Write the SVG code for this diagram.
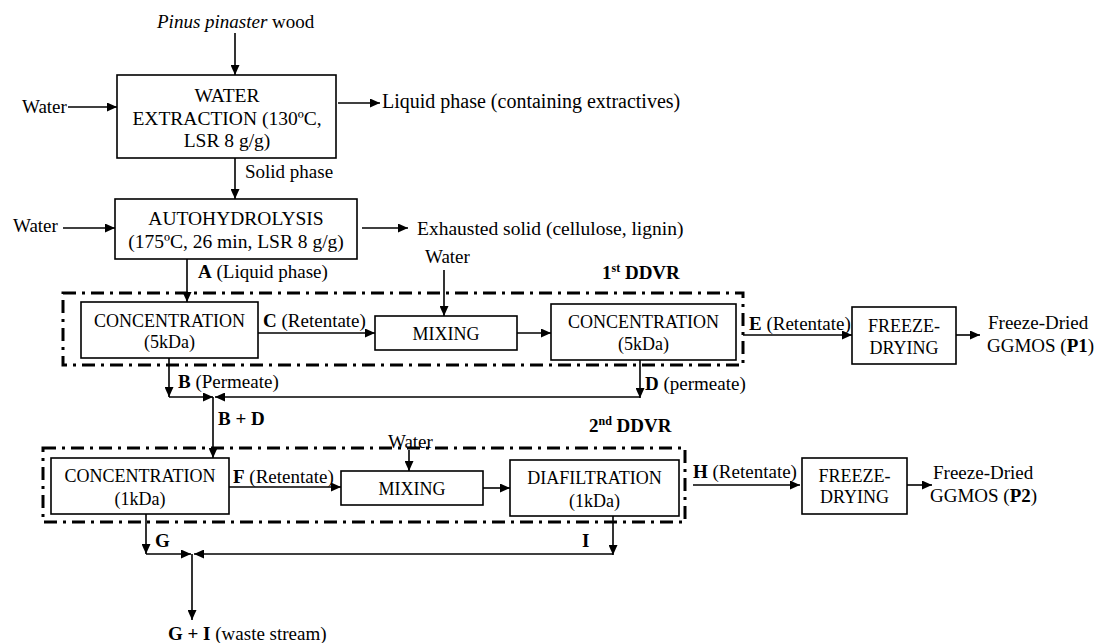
<svg xmlns="http://www.w3.org/2000/svg" width="1097" height="643" viewBox="0 0 1097 643">
<style>
text{font-family:"Liberation Serif","Times New Roman",serif;fill:#000}
.lbl{font-size:19px}
.bx{font-size:18px;text-anchor:middle}
.big{font-size:19.5px}
.b{font-weight:bold}
.box{fill:#fff;stroke:#000;stroke-width:1.6}
.ddvr{fill:none;stroke:#000;stroke-width:3;stroke-dasharray:13 6 3 6}
.c{fill:none;stroke:#000;stroke-width:1.6}
.a{marker-end:url(#ah)}
</style>
<defs>
<marker id="ah" markerUnits="userSpaceOnUse" markerWidth="11" markerHeight="9" refX="10" refY="4.5" orient="auto">
<path d="M0,0 L10,4.5 L0,9 z" fill="#000"/>
</marker>
</defs>
<rect id="ddvr1" class="ddvr" x="63" y="293" width="680" height="72"/>
<rect id="ddvr2" class="ddvr" x="43" y="448" width="642" height="74"/>
<g id="connectors">
<path class="c a" d="M235,33 V75"/>
<path class="c a" d="M68,107 H117"/>
<path class="c a" d="M338,103 H380"/>
<path class="c a" d="M235,158 V199"/>
<path class="c a" d="M63,228 H115"/>
<path class="c a" d="M362,228 H408"/>
<path class="c a" d="M187,259 V302"/>
<path class="c a" d="M258,333 H375"/>
<path class="c a" d="M444,270 V316"/>
<path class="c a" d="M517,333 H551"/>
<path class="c a" d="M743,335 H852"/>
<path class="c a" d="M956,335 H980"/>
<path class="c a" d="M169,358 V397"/>
<path class="c a" d="M169,397 H213"/>
<path class="c a" d="M640,360 V398"/>
<path class="c a" d="M640,397 H215"/>
<path class="c a" d="M213,397 V458"/>
<path class="c a" d="M229,487 H341"/>
<path class="c a" d="M409,450 V471"/>
<path class="c a" d="M483,488 H510"/>
<path class="c a" d="M693,485 H800"/>
<path class="c a" d="M907,485 H932"/>
<path class="c a" d="M146,514 V554"/>
<path class="c a" d="M146,554 H191"/>
<path class="c a" d="M613,516 V555"/>
<path class="c a" d="M613,554 H194"/>
<path class="c a" d="M192,554 V620"/>
</g>
<g id="water-extraction">
<rect class="box" x="117" y="75" width="219" height="83"/>
<text class="bx big" x="227" y="102">WATER</text>
<text class="bx big" x="227" y="125">EXTRACTION (130ºC,</text>
<text class="bx big" x="227" y="147">LSR 8 g/g)</text>
</g>
<g id="autohydrolysis">
<rect class="box" x="115" y="199" width="242" height="60"/>
<text class="bx big" x="236" y="225">AUTOHYDROLYSIS</text>
<text class="bx big" x="236" y="248">(175ºC, 26 min, LSR 8 g/g)</text>
</g>
<g id="conc1">
<rect class="box" x="81" y="302" width="177" height="56"/>
<text class="bx" x="169.5" y="327">CONCENTRATION</text>
<text class="bx" x="169.5" y="348">(5kDa)</text>
</g>
<g id="mixing1">
<rect class="box" x="375" y="316" width="142" height="34"/>
<text class="bx" x="446" y="340">MIXING</text>
</g>
<g id="conc2">
<rect class="box" x="551" y="304" width="185" height="56"/>
<text class="bx" x="643.5" y="328">CONCENTRATION</text>
<text class="bx" x="643.5" y="350">(5kDa)</text>
</g>
<g id="freeze1">
<rect class="box" x="852" y="307" width="104" height="57"/>
<text class="bx" x="904" y="332">FREEZE-</text>
<text class="bx" x="904" y="354">DRYING</text>
</g>
<g id="conc3">
<rect class="box" x="51" y="458" width="178" height="56"/>
<text class="bx" x="140" y="482">CONCENTRATION</text>
<text class="bx" x="140" y="505">(1kDa)</text>
</g>
<g id="mixing2">
<rect class="box" x="341" y="471" width="142" height="34"/>
<text class="bx" x="412" y="495">MIXING</text>
</g>
<g id="diafiltration">
<rect class="box" x="510" y="460" width="169" height="56"/>
<text class="bx" x="594.5" y="484">DIAFILTRATION</text>
<text class="bx" x="594.5" y="507">(1kDa)</text>
</g>
<g id="freeze2">
<rect class="box" x="802" y="458" width="105" height="56"/>
<text class="bx" x="854.5" y="482">FREEZE-</text>
<text class="bx" x="854.5" y="503">DRYING</text>
</g>
<g id="labels">
<text class="lbl" x="157" y="28"><tspan font-style="italic">Pinus pinaster</tspan> wood</text>
<text class="lbl" x="22" y="113">Water</text>
<text class="lbl" x="382" y="108" style="font-size:20px">Liquid phase (containing extractives)</text>
<text class="lbl" x="245" y="178">Solid phase</text>
<text class="lbl" x="13" y="232">Water</text>
<text class="lbl big" x="417" y="235">Exhausted solid (cellulose, lignin)</text>
<text class="lbl" x="198" y="278"><tspan class="b">A</tspan> (Liquid phase)</text>
<text class="lbl" x="263" y="327"><tspan class="b">C</tspan> (Retentate)</text>
<text class="lbl" x="425" y="263">Water</text>
<text class="lbl b" x="602" y="279">1<tspan font-size="12" dy="-7">st</tspan><tspan dy="7"> DDVR</tspan></text>
<text class="lbl" x="749" y="330"><tspan class="b">E</tspan> (Retentate)</text>
<text class="lbl" x="988" y="329">Freeze-Dried</text>
<text class="lbl" x="987" y="352">GGMOS (<tspan class="b">P1</tspan>)</text>
<text class="lbl" x="178" y="388"><tspan class="b">B</tspan> (Permeate)</text>
<text class="lbl" x="645" y="390"><tspan class="b">D</tspan> (permeate)</text>
<text class="lbl b" x="218" y="425">B + D</text>
<text class="lbl b" x="589" y="432">2<tspan font-size="12" dy="-7">nd</tspan><tspan dy="7"> DDVR</tspan></text>
<text class="lbl" x="388" y="448">Water</text>
<text class="lbl" x="233" y="483"><tspan class="b">F</tspan> (Retentate)</text>
<text class="lbl" x="693" y="478"><tspan class="b">H</tspan> (Retentate)</text>
<text class="lbl" x="933" y="479">Freeze-Dried</text>
<text class="lbl" x="930" y="502">GGMOS (<tspan class="b">P2</tspan>)</text>
<text class="lbl b" x="155" y="547">G</text>
<text class="lbl b" x="582" y="547">I</text>
<text class="lbl" x="168" y="640"><tspan class="b">G + I</tspan> (waste stream)</text>
</g>
</svg>
